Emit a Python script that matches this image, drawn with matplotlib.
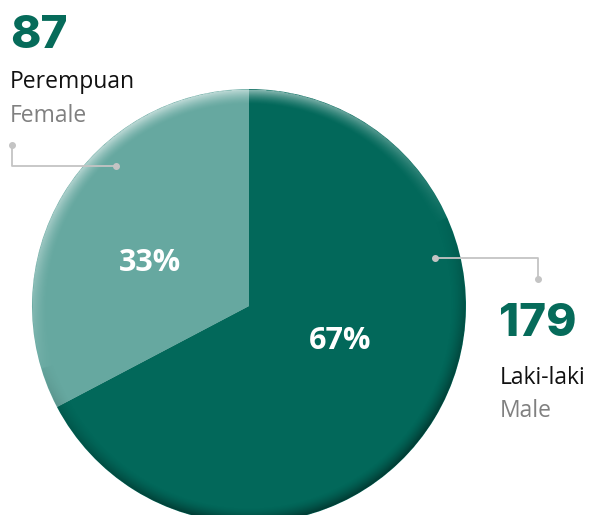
import numpy as np
import matplotlib
matplotlib.use("Agg")
import matplotlib.pyplot as plt

# ---- data ----
categories_id = ["Perempuan", "Laki-laki"]
categories_en = ["Female", "Male"]
counts = [87, 179]
colors = ["#66a8a0", "#02685a"]

W, H = 593, 515
fig = plt.figure(figsize=(W / 100, H / 100), dpi=100)
ax = fig.add_axes([0, 0, 1, 1])

cx, cy, R = 249, H - 306, 217
wedges, _ = ax.pie(counts, colors=colors, startangle=90, counterclock=True,
                   center=(cx, cy), radius=R, frame=True,
                   wedgeprops=dict(linewidth=0))
ax.set_aspect("equal")
ax.axis("off")

# bevel shading overlay
n = 600
xs = np.linspace(cx - R, cx + R, n)
ys = np.linspace(cy - R, cy + R, n)
X, Y = np.meshgrid(xs, ys)
dx, dy = X - cx, Y - cy
d = np.hypot(dx, dy) / R
band = np.clip((d - 0.93) / 0.07, 0, 1) ** 1.5
nx, ny = dx / np.maximum(d * R, 1e-6), dy / np.maximum(d * R, 1e-6)
s = nx * (-0.35) + ny * 0.94
rgba = np.zeros((n, n, 4))
light = np.clip(s, 0, 1) * band * 0.6
dark = np.clip(-s + 0.15, 0, 1) * band * 0.45
rgba[..., :3] = np.where((light > dark)[..., None], 1.0, 0.0)
rgba[..., 3] = np.maximum(light, dark)
rgba[d > 1, 3] = 0
circ = plt.Circle((cx, cy), R, transform=ax.transData)
im = ax.imshow(rgba, extent=(cx - R, cx + R, cy - R, cy + R), origin="lower",
               interpolation="bilinear", zorder=3)
im.set_clip_path(circ)
ax.set_xlim(0, W)
ax.set_ylim(0, H)

total = sum(counts)
pcts = [f"{round(100 * v / total)}%" for v in counts]
pct_pos = [(150, 263), (340, 341)]
for p, (px, py) in zip(pcts, pct_pos):
    ax.text(px, H - py, p, color="white", fontsize=22, fontweight="bold",
            family="Open Sans", ha="center", va="center", zorder=5)

teal = "#066b5a"
gray_line = "#c4c4c4"
num_font = dict(family="Inter", fontweight="heavy", fontsize=33)

# left labels
ax.text(10, H - 48, str(counts[0]), color=teal, ha="left", va="baseline", **num_font)
ax.text(10, H - 88, categories_id[0], color="#111111", fontsize=16.5,
        family="Open Sans", ha="left", va="baseline")
ax.text(10, H - 122, categories_en[0], color="#808080", fontsize=16.5,
        family="Open Sans", ha="left", va="baseline")
ax.plot([12, 12, 116], [H - 145, H - 166, H - 166], color=gray_line, lw=1.3, zorder=6)
ax.plot([12, 116], [H - 145, H - 166], "o", color=gray_line, ms=4, zorder=6)

# right labels
ax.text(499, H - 336, str(counts[1]), color=teal, ha="left", va="baseline", **num_font)
ax.text(500, H - 384, categories_id[1], color="#111111", fontsize=16.5,
        family="Open Sans", ha="left", va="baseline")
ax.text(500, H - 417, categories_en[1], color="#808080", fontsize=16.5,
        family="Open Sans", ha="left", va="baseline")
ax.plot([435, 538, 538], [H - 258, H - 258, H - 279], color=gray_line, lw=1.3, zorder=6)
ax.plot([435, 538], [H - 258, H - 279], "o", color=gray_line, ms=4, zorder=6)

fig.savefig("out.png", dpi=100)
